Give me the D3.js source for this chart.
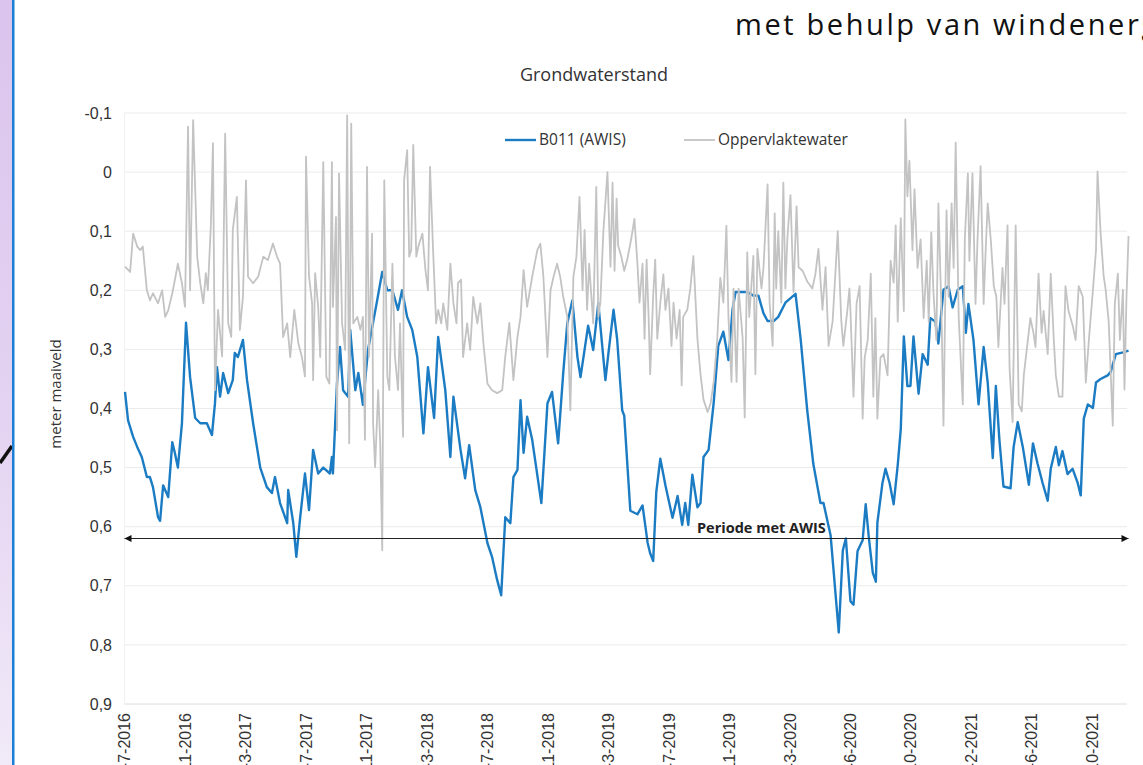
<!DOCTYPE html>
<html lang="nl">
<head>
<meta charset="utf-8">
<title>Grondwaterstand</title>
<script src="https://cdn.jsdelivr.net/npm/d3@7"></script>
<style>
  html, body { margin: 0; padding: 0; background: #fff; overflow: hidden; }
  svg { display: block; }
</style>
</head>
<body>
<div id="chart"></div>
<script>
// dagen worden geteld vanaf startDatum
const startDatum = "31-7-2016";
const eindDatum = "24-12-2021";

const tickLabels = ["31-7-2016", "27-11-2016", "26-3-2017", "23-7-2017", "19-11-2017", "18-3-2018",
  "15-7-2018", "11-11-2018", "10-3-2019", "7-7-2019", "3-11-2019", "1-3-2020", "28-6-2020",
  "24-10-2020", "20-2-2021", "19-6-2021", "16-10-2021"];

const yTicks = [-0.1, 0, 0.1, 0.2, 0.3, 0.4, 0.5, 0.6, 0.7, 0.8, 0.9];

const reeksNamen = ["B011 (AWIS)", "Oppervlaktewater"];

// [dag, meter t.o.v. maaiveld]
const b011 = [
  [1,0.372],[7,0.42],[17,0.448],[25,0.465],[34,0.482],[44,0.516],[50,0.516],[56,0.533],[66,0.584],[70,0.59],
  [76,0.53],[86,0.55],[94,0.457],[99,0.475],[105,0.5],[113,0.425],[121,0.255],[129,0.347],[139,0.416],[149,0.425],
  [162,0.425],[172,0.445],[178,0.391],[182,0.33],[188,0.38],[194,0.34],[204,0.374],[213,0.352],[217,0.306],[223,0.313],
  [233,0.284],[241,0.352],[253,0.425],[267,0.5],[280,0.533],[290,0.543],[296,0.516],[306,0.56],[320,0.594],[322,0.538],
  [332,0.594],[338,0.651],[345,0.589],[355,0.51],[363,0.572],[371,0.47],[381,0.51],[391,0.5],[404,0.51],[408,0.482],
  [410,0.51],[418,0.357],[424,0.296],[430,0.369],[440,0.38],[444,0.267],[454,0.369],[460,0.34],[469,0.394],[479,0.301],
  [497,0.217],[507,0.169],[517,0.2],[527,0.2],[538,0.233],[546,0.2],[556,0.245],[566,0.267],[576,0.313],[588,0.442],
  [597,0.33],[609,0.416],[617,0.279],[631,0.369],[641,0.482],[647,0.38],[661,0.47],[670,0.518],[678,0.462],[690,0.538],
  [700,0.567],[714,0.628],[723,0.651],[733,0.69],[741,0.716],[749,0.584],[759,0.594],[765,0.516],[773,0.504],[779,0.386],
  [785,0.475],[792,0.414],[802,0.453],[820,0.56],[832,0.391],[841,0.372],[853,0.459],[863,0.34],[871,0.256],[881,0.217],
  [891,0.313],[897,0.347],[907,0.289],[912,0.26],[922,0.301],[932,0.222],[946,0.352],[952,0.306],[962,0.233],[969,0.282],
  [979,0.403],[983,0.412],[995,0.573],[1009,0.579],[1019,0.564],[1029,0.627],[1034,0.645],[1040,0.658],[1046,0.542],[1054,0.485],
  [1064,0.53],[1078,0.585],[1088,0.548],[1097,0.597],[1103,0.56],[1109,0.597],[1117,0.512],[1127,0.567],[1133,0.56],[1139,0.482],
  [1149,0.47],[1159,0.39],[1168,0.294],[1178,0.27],[1188,0.318],[1196,0.233],[1202,0.203],[1212,0.203],[1225,0.203],[1237,0.209],
  [1247,0.209],[1257,0.239],[1265,0.252],[1277,0.252],[1286,0.245],[1300,0.221],[1320,0.206],[1330,0.282],[1343,0.403],[1355,0.494],
  [1369,0.56],[1375,0.56],[1389,0.615],[1395,0.676],[1405,0.779],[1413,0.64],[1419,0.62],[1428,0.726],[1434,0.732],[1442,0.641],
  [1452,0.623],[1458,0.562],[1464,0.617],[1472,0.678],[1478,0.693],[1481,0.593],[1491,0.526],[1497,0.502],[1505,0.526],[1513,0.562],
  [1521,0.496],[1527,0.435],[1533,0.278],[1540,0.362],[1546,0.362],[1552,0.278],[1562,0.375],[1570,0.308],[1580,0.326],[1585,0.247],
  [1595,0.253],[1601,0.29],[1611,0.199],[1621,0.193],[1629,0.229],[1639,0.199],[1649,0.193],[1655,0.272],[1660,0.223],[1670,0.284],
  [1680,0.393],[1690,0.296],[1698,0.356],[1708,0.484],[1714,0.362],[1721,0.453],[1729,0.532],[1743,0.535],[1749,0.465],[1757,0.423],
  [1767,0.465],[1779,0.529],[1787,0.459],[1796,0.493],[1806,0.526],[1816,0.556],[1822,0.502],[1832,0.465],[1838,0.496],[1845,0.472],
  [1855,0.511],[1865,0.502],[1875,0.526],[1881,0.547],[1887,0.417],[1895,0.393],[1905,0.399],[1911,0.356],[1920,0.35],[1934,0.344],
  [1940,0.338],[1950,0.308],[1964,0.305],[1975,0.302]
];

const oppervlaktewater = [
  [1,0.16],[11,0.169],[17,0.104],[25,0.126],[31,0.132],[36,0.126],[44,0.2],[50,0.217],[56,0.205],[66,0.222],
  [74,0.2],[80,0.245],[86,0.234],[94,0.205],[99,0.183],[105,0.155],[113,0.188],[119,0.228],[125,-0.077],[129,0.2],
  [135,-0.088],[143,0.143],[149,0.188],[155,0.222],[160,0.171],[164,0.2],[170,0.087],[174,-0.049],[178,0.369],[184,0.233],
  [192,0.312],[198,-0.065],[204,0.256],[210,0.279],[213,0.098],[221,0.042],[227,0.267],[233,0.211],[239,0.014],[243,0.177],
  [253,0.188],[263,0.177],[273,0.143],[282,0.149],[292,0.121],[300,0.143],[306,0.155],[312,0.279],[320,0.256],[326,0.313],
  [334,0.233],[342,0.29],[349,0.313],[355,0.346],[357,-0.026],[363,0.177],[369,0.222],[371,0.352],[375,0.171],[381,0.228],
  [385,0.313],[391,-0.017],[397,0.346],[403,0.358],[408,-0.017],[410,0.228],[416,0.076],[418,0.437],[422,0.002],[428,0.256],
  [434,0.301],[438,-0.096],[442,0.459],[446,-0.082],[450,0.256],[458,0.245],[464,0.267],[469,0.245],[473,0.453],[477,-0.009],
  [481,0.312],[487,0.104],[489,0.425],[493,0.499],[499,0.369],[503,0.459],[507,0.64],[511,0.014],[517,0.346],[521,0.369],
  [527,0.155],[532,0.312],[538,0.369],[542,0.256],[548,0.448],[550,0.014],[556,-0.037],[560,0.143],[564,0.132],[568,-0.046],
  [574,0.143],[578,0.126],[586,0.104],[592,0.166],[597,0.2],[601,-0.009],[607,0.132],[613,0.256],[617,0.233],[623,0.256],
  [627,0.222],[635,0.267],[641,0.155],[647,0.222],[653,0.256],[656,0.188],[662,0.182],[666,0.313],[674,0.256],[680,0.301],
  [686,0.211],[694,0.256],[700,0.222],[706,0.29],[714,0.358],[723,0.369],[733,0.374],[743,0.369],[749,0.312],[757,0.255],
  [765,0.352],[773,0.279],[779,0.245],[785,0.166],[792,0.228],[802,0.177],[812,0.132],[818,0.121],[824,0.177],[832,0.313],
  [838,0.2],[844,0.177],[851,0.155],[857,0.177],[863,0.211],[871,0.245],[877,0.403],[883,0.177],[889,0.143],[895,0.042],
  [901,0.2],[905,0.098],[910,0.233],[914,0.155],[922,0.256],[928,0.025],[932,0.245],[936,0.221],[942,0.1],[950,0.0],
  [956,0.16],[960,0.018],[964,0.167],[968,0.045],[971,0.124],[977,0.142],[983,0.167],[989,0.148],[997,0.112],[1003,0.079],
  [1009,0.155],[1013,0.221],[1019,0.155],[1023,0.282],[1027,0.148],[1031,0.245],[1034,0.342],[1040,0.209],[1044,0.148],[1048,0.282],
  [1054,0.221],[1060,0.173],[1064,0.233],[1070,0.197],[1076,0.294],[1080,0.221],[1086,0.282],[1092,0.233],[1096,0.361],[1099,0.245],
  [1107,0.233],[1113,0.197],[1119,0.142],[1127,0.282],[1133,0.342],[1139,0.385],[1147,0.406],[1153,0.391],[1159,0.355],[1166,0.282],
  [1172,0.179],[1178,0.221],[1184,0.091],[1188,0.245],[1194,0.355],[1198,0.197],[1204,0.355],[1208,0.197],[1216,0.282],[1220,0.415],
  [1225,0.136],[1229,0.245],[1237,0.142],[1241,0.342],[1245,0.13],[1253,0.197],[1257,0.161],[1265,0.021],[1269,0.221],[1275,0.294],
  [1279,0.07],[1282,0.197],[1286,0.1],[1292,0.221],[1296,0.018],[1300,0.197],[1304,0.112],[1310,0.039],[1316,0.203],[1322,0.058],
  [1326,0.161],[1334,0.167],[1343,0.185],[1353,0.197],[1359,0.173],[1365,0.13],[1373,0.233],[1379,0.161],[1385,0.294],[1393,0.252],
  [1399,0.161],[1403,0.1],[1410,0.252],[1414,0.294],[1422,0.233],[1426,0.197],[1428,0.235],[1434,0.38],[1440,0.223],[1446,0.193],
  [1452,0.417],[1456,0.314],[1462,0.284],[1468,0.172],[1473,0.38],[1477,0.247],[1481,0.417],[1487,0.314],[1493,0.308],[1501,0.344],
  [1507,0.15],[1513,0.187],[1517,0.09],[1521,0.253],[1527,0.078],[1533,0.235],[1536,-0.089],[1540,0.041],[1544,-0.019],[1550,0.132],
  [1554,0.029],[1560,0.162],[1566,0.114],[1572,0.247],[1578,0.15],[1582,0.253],[1587,0.102],[1591,0.199],[1597,0.284],[1601,0.053],
  [1607,0.235],[1611,0.429],[1617,0.065],[1621,0.211],[1627,0.053],[1631,0.162],[1635,-0.05],[1641,0.247],[1649,0.393],[1653,0.114],
  [1659,0.002],[1662,0.15],[1668,0.002],[1674,0.223],[1678,0.114],[1684,-0.01],[1690,0.223],[1694,0.132],[1698,0.053],[1704,0.114],
  [1710,0.193],[1715,0.211],[1719,0.296],[1727,0.162],[1731,0.223],[1737,0.09],[1741,0.332],[1747,0.423],[1753,0.09],[1759,0.393],
  [1765,0.405],[1769,0.344],[1777,0.284],[1782,0.247],[1788,0.272],[1792,0.296],[1798,0.172],[1804,0.272],[1808,0.235],[1816,0.308],
  [1822,0.172],[1828,0.284],[1832,0.344],[1838,0.38],[1845,0.38],[1851,0.193],[1857,0.235],[1865,0.259],[1871,0.284],[1877,0.193],
  [1885,0.211],[1891,0.356],[1897,0.284],[1905,0.199],[1911,0.132],[1914,-0.001],[1920,0.102],[1926,0.175],[1930,0.199],[1936,0.253],
  [1944,0.429],[1948,0.223],[1954,0.172],[1958,0.284],[1964,0.199],[1967,0.368],[1971,0.211],[1975,0.108]
];

const awisPeriode = ["31-7-2016", "27-12-2021"];
const awisNiveau = 0.62;

const width = 1143, height = 765;
const parse = d3.timeParse("%d-%m-%Y");
const start = parse(startDatum);
const dag = (n) => d3.timeDay.offset(start, n);

const x = d3.scaleTime()
  .domain([start, parse(eindDatum)])
  .range([124.5, 1127]);

const y = d3.scaleLinear()
  .domain([-0.1, 0.9])
  .range([113, 704]);

const nl = d3.formatLocale({ decimal: ",", thousands: ".", grouping: [3], currency: ["€", ""], minus: "-" });
const fmt = (v) => v === 0 ? "0" : nl.format(".1f")(v);

const svg = d3.select("#chart").append("svg")
  .attr("width", width)
  .attr("height", height);

// paarse rand links (achtergrond van de pagina)
const defs = svg.append("defs");
const grad = defs.append("linearGradient")
  .attr("id", "rand").attr("x1", 0).attr("y1", 0).attr("x2", 0).attr("y2", 1);
grad.append("stop").attr("offset", "0%").attr("stop-color", "#dbc4ed");
grad.append("stop").attr("offset", "55%").attr("stop-color", "#e4d3f2");
grad.append("stop").attr("offset", "100%").attr("stop-color", "#f1eaf8");

defs.append("marker")
  .attr("id", "pijl")
  .attr("viewBox", "0 0 10 10")
  .attr("refX", 10).attr("refY", 5)
  .attr("markerWidth", 9).attr("markerHeight", 7)
  .attr("markerUnits", "userSpaceOnUse")
  .attr("orient", "auto-start-reverse")
  .append("path")
  .attr("d", "M0,0 L10,5 L0,10 z")
  .attr("fill", "#111");

svg.append("rect")
  .attr("x", 0).attr("y", 0).attr("width", 12).attr("height", height)
  .attr("fill", "url(#rand)");
svg.append("line")
  .attr("x1", 0).attr("y1", 463).attr("x2", 12).attr("y2", 446)
  .attr("stroke", "#111").attr("stroke-width", 3.5);
svg.append("rect")
  .attr("x", 12).attr("y", 0).attr("width", 2.5).attr("height", height)
  .attr("fill", "#1b7fd6");

// kop van de pagina (loopt rechts van de pagina af)
svg.append("text")
  .attr("x", 735).attr("y", 35)
  .attr("font-family", "'Open Sans', 'Noto Sans', sans-serif")
  .attr("font-size", 29)
  .attr("letter-spacing", 2.6)
  .attr("fill", "#111")
  .text("met behulp van windenergie");

// rasterlijnen
svg.append("g")
  .selectAll("line")
  .data(yTicks)
  .join("line")
  .attr("x1", x.range()[0]).attr("x2", x.range()[1])
  .attr("y1", (d) => y(d)).attr("y2", (d) => y(d))
  .attr("stroke", (d) => d === 0.9 ? "#dcdcdc" : "#ebebeb")
  .attr("stroke-width", 1);

svg.append("line")
  .attr("x1", x.range()[0]).attr("x2", x.range()[0])
  .attr("y1", y(-0.1)).attr("y2", y(0.9))
  .attr("stroke", "#f0f0f0");

// y-as labels
svg.append("g")
  .selectAll("text")
  .data(yTicks)
  .join("text")
  .attr("x", 112)
  .attr("y", (d) => y(d))
  .attr("dy", "0.35em")
  .attr("text-anchor", "end")
  .attr("font-family", "'Liberation Sans', Arial, sans-serif")
  .attr("font-size", 16)
  .attr("fill", "#333")
  .text(fmt);

svg.append("text")
  .attr("transform", "translate(56," + 394 + ") rotate(-90)")
  .attr("text-anchor", "middle")
  .attr("dy", "0.35em")
  .attr("font-family", "'Open Sans', 'Noto Sans', sans-serif")
  .attr("font-size", 15)
  .attr("fill", "#333")
  .text("meter maaiveld");

// x-as labels, gedraaid; de onderkant valt buiten beeld zoals in het origineel
svg.append("g")
  .selectAll("text")
  .data(tickLabels)
  .join("text")
  .attr("transform", (d) => "translate(" + x(parse(d)) + ",713) rotate(-90)")
  .attr("dy", "0.35em")
  .attr("text-anchor", "end")
  .attr("font-family", "'Liberation Sans', Arial, sans-serif")
  .attr("font-size", 16)
  .attr("fill", "#333")
  .text((d) => d);

svg.append("text")
  .attr("x", 594)
  .attr("y", 81)
  .attr("text-anchor", "middle")
  .attr("font-family", "'Open Sans', 'Noto Sans', sans-serif")
  .attr("font-size", 18)
  .attr("fill", "#333")
  .text("Grondwaterstand");

const line = d3.line()
  .x((d) => x(dag(d[0])))
  .y((d) => y(d[1]));

svg.append("path")
  .datum(b011)
  .attr("d", line)
  .attr("fill", "none")
  .attr("stroke", "#1c7cc3")
  .attr("stroke-width", 2.4)
  .attr("stroke-linejoin", "round");

svg.append("path")
  .datum(oppervlaktewater)
  .attr("d", line)
  .attr("fill", "none")
  .attr("stroke", "#c3c3c3")
  .attr("stroke-width", 1.8)
  .attr("stroke-linejoin", "round");

// periode met AWIS
svg.append("line")
  .attr("x1", x(parse(awisPeriode[0]))).attr("x2", x(parse(awisPeriode[1])))
  .attr("y1", y(awisNiveau)).attr("y2", y(awisNiveau))
  .attr("stroke", "#222")
  .attr("stroke-width", 1.2)
  .attr("marker-start", "url(#pijl)")
  .attr("marker-end", "url(#pijl)");

svg.append("text")
  .attr("x", 697).attr("y", y(awisNiveau) - 6)
  .attr("font-family", "'Open Sans', 'Noto Sans', sans-serif")
  .attr("font-size", 14.5)
  .attr("font-weight", "bold")
  .attr("fill", "#222")
  .text("Periode met AWIS");

// legenda
const legenda = svg.append("g")
  .selectAll("g")
  .data(reeksNamen)
  .join("g")
  .attr("transform", (d, i) => "translate(" + (i === 0 ? 505 : 684) + ",140)");
legenda.append("line")
  .attr("x1", 0).attr("x2", 31).attr("y1", 0).attr("y2", 0)
  .attr("stroke", (d, i) => i === 0 ? "#1c7cc3" : "#c3c3c3")
  .attr("stroke-width", (d, i) => i === 0 ? 2.4 : 1.8);
legenda.append("text")
  .attr("x", 34)
  .attr("dy", "0.35em")
  .attr("font-family", "'Open Sans', 'Noto Sans', sans-serif")
  .attr("font-size", 15.5)
  .attr("fill", "#333")
  .text((d) => d);
</script>
</body>
</html>
